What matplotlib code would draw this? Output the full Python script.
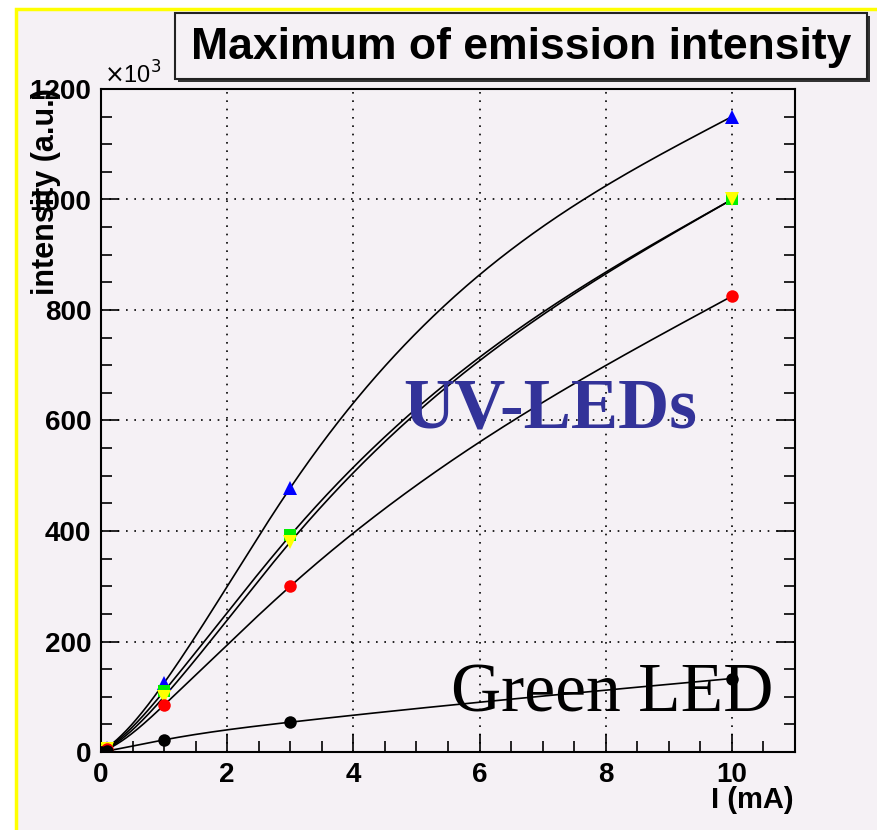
import matplotlib.pyplot as plt
import numpy as np
from matplotlib.patches import Rectangle

# Corriente (mA) y maximos de intensidad (x10^3 a.u.)
corriente = [0, 0.1, 1, 3, 10]
uv_azul = [0, 8, 125, 478, 1150]
uv_verde = [0, 7, 110, 392, 1000]
uv_amarillo = [0, 6, 100, 380, 1000]
uv_rojo = [0, 5, 85, 300, 825]
led_verde = [0, 2, 22, 54, 133]

fondo = '#f5f1f5'


def spline_natural(x, y, xs):
    # Spline cubico natural para dibujar la curva suave entre los puntos
    x = np.asarray(x, float)
    y = np.asarray(y, float)
    n = len(x)
    h = np.diff(x)
    A = np.zeros((n, n))
    b = np.zeros(n)
    A[0, 0] = 1
    A[-1, -1] = 1
    for i in range(1, n - 1):
        A[i, i - 1] = h[i - 1]
        A[i, i] = 2 * (h[i - 1] + h[i])
        A[i, i + 1] = h[i]
        b[i] = 6 * ((y[i + 1] - y[i]) / h[i] - (y[i] - y[i - 1]) / h[i - 1])
    M = np.linalg.solve(A, b)
    k = np.clip(np.searchsorted(x, xs) - 1, 0, n - 2)
    t0 = x[k + 1] - xs
    t1 = xs - x[k]
    hk = h[k]
    return (M[k] * t0**3 / (6 * hk) + M[k + 1] * t1**3 / (6 * hk)
            + (y[k] / hk - M[k] * hk / 6) * t0
            + (y[k + 1] / hk - M[k + 1] * hk / 6) * t1)


fig = plt.figure(figsize=(8.78, 8.30), dpi=100, facecolor='white')

# Marco del pad
fig.patches.append(Rectangle((16 / 878, -0.05), 1.1, 1 - 9.5 / 830 + 0.05,
                             transform=fig.transFigure, facecolor=fondo,
                             edgecolor='#ffff00', linewidth=2.5, zorder=-5))

ax = fig.add_axes([101 / 878, 1 - 752 / 830, 694 / 878, 663 / 830])
ax.set_facecolor(fondo)

xs = np.linspace(0, 10, 400)
series = [
    (uv_azul, 'blue', '^', 10),
    (uv_verde, '#00ee00', 's', 8),
    (uv_amarillo, '#ffff00', 'v', 10),
    (uv_rojo, 'red', 'o', 9),
    (led_verde, 'black', 'o', 9),
]
for y, color, marcador, tam in series:
    ax.plot(xs, spline_natural(corriente, y, xs), '-', color='black', lw=1.2, zorder=2)
for y, color, marcador, tam in series:
    ax.plot(corriente, y, linestyle='none', marker=marcador, color=color,
            markersize=tam, markeredgewidth=0, zorder=3)

ax.set_xlim(0, 11)
ax.set_ylim(0, 1200)
ax.set_xticks([0, 2, 4, 6, 8, 10])
ax.set_xticks(np.arange(0, 11.01, 0.5), minor=True)
ax.set_yticks([0, 200, 400, 600, 800, 1000, 1200])
ax.set_yticks(np.arange(0, 1201, 50), minor=True)
ax.set_yticklabels(['0', '200', '400', '600', '800', '1000', '1200'])
ax.tick_params(which='both', direction='in', right=True, top=False,
               labelsize=20, width=1.2, pad=7)
ax.tick_params(which='major', length=13)
ax.tick_params(which='minor', length=8)
for etiqueta in ax.get_xticklabels() + ax.get_yticklabels():
    etiqueta.set_fontweight('bold')
    etiqueta.set_family('Liberation Sans')
for s in ax.spines.values():
    s.set_linewidth(1.5)
ax.grid(True, which='major', color='black', linestyle=(0, (1, 4)), linewidth=1.2)

# Textos
fig.text(794 / 878, 1 - 800 / 830, 'I (mA)', ha='right', va='center',
         fontsize=21, fontweight='bold', family='Liberation Sans')
fig.text(46 / 878, 1 - 88 / 830, 'intensity (a.u.)', ha='center', va='top',
         rotation=90, fontsize=22, fontweight='bold', family='Liberation Sans')
fig.text(104 / 878, 1 - 84 / 830, r'$\times$10$^3$', ha='left', va='baseline',
         fontsize=17, family='Liberation Sans')

# Caja del titulo con sombra
fig.patches.append(Rectangle((178 / 878, 1 - 82 / 830), 692 / 878, 66 / 830,
                             transform=fig.transFigure, facecolor='#333333',
                             edgecolor='none', zorder=1))
fig.patches.append(Rectangle((175 / 878, 1 - 79 / 830), 692 / 878, 66 / 830,
                             transform=fig.transFigure, facecolor=fondo,
                             edgecolor='#222222', linewidth=1.5, zorder=2))
fig.text(521 / 878, 1 - 47 / 830, 'Maximum of emission intensity', ha='center',
         va='center', fontsize=32, fontweight='bold', family='Liberation Sans', zorder=3)

ax.text(7.12, 619, 'UV-LEDs', ha='center', va='center', fontsize=51,
        fontweight='bold', family='Liberation Serif', color='#333399', zorder=4)
ax.text(8.1, 104, 'Green LED', ha='center', va='center', fontsize=50,
        family='Liberation Serif', color='black', zorder=4)

plt.savefig('out.png', dpi=100, facecolor=fig.get_facecolor())
